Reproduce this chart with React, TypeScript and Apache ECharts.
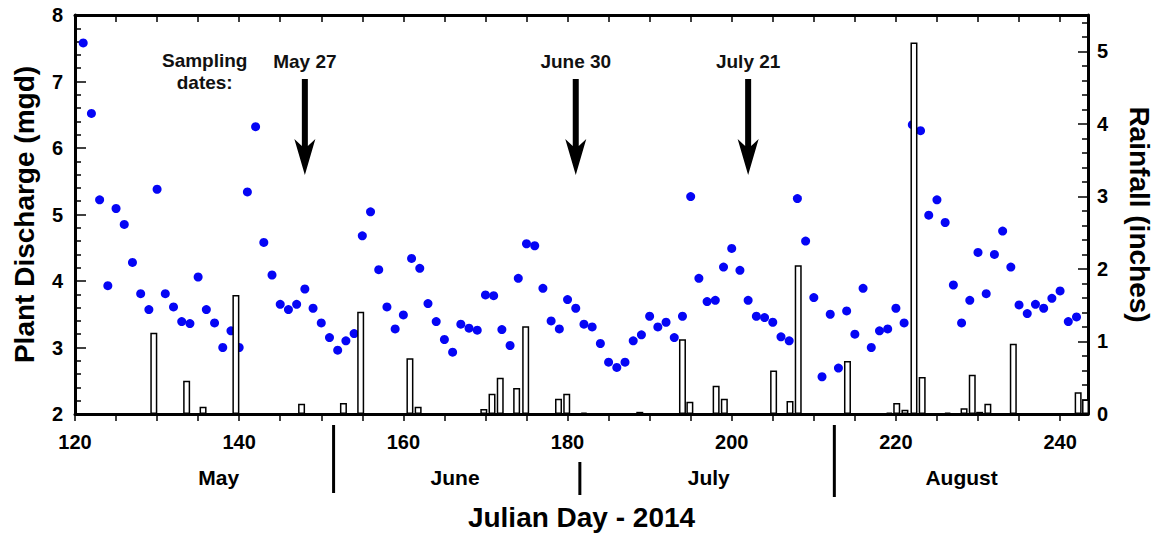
import React, { useEffect, useRef } from 'react';
import * as echarts from 'echarts';

// ---- Data ----
const DISCHARGE_DAYS = [
  121, 122, 123, 124, 125, 126, 127, 128, 129, 130,
  131, 132, 133, 134, 135, 136, 137, 138, 139, 140,
  141, 142, 143, 144, 145, 146, 147, 148, 149, 150,
  151, 152, 153, 154, 155, 156, 157, 158, 159, 160,
  161, 162, 163, 164, 165, 166, 167, 168, 169, 170,
  171, 172, 173, 174, 175, 176, 177, 178, 179, 180,
  181, 182, 183, 184, 185, 186, 187, 188, 189, 190,
  191, 192, 193, 194, 195, 196, 197, 198, 199, 200,
  201, 202, 203, 204, 205, 206, 207, 208, 209, 210,
  211, 212, 213, 214, 215, 216, 217, 218, 219, 220,
  221, 222, 223, 224, 225, 226, 227, 228, 229, 230,
  231, 232, 233, 234, 235, 236, 237, 238, 239, 240,
  241, 242,
];
const DISCHARGE_MGD = [
  7.58, 6.52, 5.22, 3.93, 5.09, 4.85, 4.28, 3.81, 3.57, 5.38,
  3.81, 3.61, 3.39, 3.36, 4.06, 3.57, 3.37, 3.0, 3.25, 3.0,
  5.34, 6.32, 4.58, 4.09, 3.65, 3.57, 3.65, 3.88, 3.59, 3.37,
  3.15, 2.96, 3.1, 3.21, 4.68, 5.04, 4.17, 3.61, 3.28, 3.49,
  4.34, 4.19, 3.66, 3.39, 3.12, 2.93, 3.35, 3.29, 3.26, 3.79,
  3.78, 3.27, 3.03, 4.04, 4.56, 4.53, 3.89, 3.4, 3.28, 3.72,
  3.59, 3.35, 3.31, 3.06, 2.78, 2.7, 2.78, 3.1, 3.19, 3.47,
  3.31, 3.38, 3.15, 3.47, 5.27, 4.04, 3.69, 3.71, 4.21, 4.49,
  4.16, 3.71, 3.47, 3.45, 3.38, 3.16, 3.1, 5.24, 4.6, 3.75,
  2.56, 3.5, 2.69, 3.55, 3.2, 3.89, 3.0, 3.25, 3.28, 3.59,
  3.37, 6.35, 6.26, 4.99, 5.22, 4.88, 3.94, 3.37, 3.71, 4.43,
  3.81, 4.4, 4.75, 4.21, 3.64, 3.51, 3.65, 3.59, 3.74, 3.85,
  3.39, 3.46,
];

const RAIN_DAYS = [
  129.6, 133.6, 135.6, 139.6, 147.6, 152.7, 154.8, 160.8, 161.8, 169.8,
  170.8, 171.8, 173.8, 174.9, 178.9, 179.9, 182.0, 188.8, 194.0, 194.9,
  198.1, 199.1, 205.1, 207.1, 208.1, 214.1, 219.2, 220.1, 221.1, 222.2,
  223.2, 226.3, 228.3, 229.3, 230.2, 231.2, 234.3, 242.2, 243.1,
];
const RAIN_INCHES = [
  1.12, 0.46, 0.1, 1.64, 0.14, 0.15, 1.41, 0.77, 0.1, 0.07,
  0.28, 0.5, 0.36, 1.21, 0.21, 0.28, 0.02, 0.03, 1.03, 0.17,
  0.39, 0.21, 0.6, 0.18, 2.05, 0.73, 0.02, 0.15, 0.06, 5.12,
  0.51, 0.02, 0.08, 0.54, 0.03, 0.14, 0.97, 0.3, 0.2,
];

const X_TICKS = [120, 125, 130, 135, 140, 145, 150, 155, 160, 165, 170, 175, 180, 185, 190, 195, 200, 205, 210, 215, 220, 225, 230, 235, 240];
const X_LABELS = [120, 140, 160, 180, 200, 220, 240];
const RAIN_LABELS = [0, 1, 2, 3, 4, 5];
const RAIN_MINOR_TICKS = [
  0.2, 0.4, 0.6, 0.8, 1.2, 1.4, 1.6, 1.8, 2.2, 2.4, 2.6, 2.8,
  3.2, 3.4, 3.6, 3.8, 4.2, 4.4, 4.6, 4.8, 5.2, 5.4,
];

const MONTHS = ['May', 'June', 'July', 'August'];
const MONTH_LABEL_DAYS = [137.5, 166.3, 197.2, 228.0];
const MONTH_BOUNDARY_DAYS = [151.5, 181.5, 212.5];

const SAMPLE_LABELS = ['May 27', 'June 30', 'July 21'];
const SAMPLE_DAYS = [148, 181, 202];
const SAMPLING_NOTE = 'Sampling\ndates:';
const SAMPLING_NOTE_DAY = 135.8;

const X_MIN = 120;
const X_MAX = 243.4;

const FONT = "'Liberation Sans', Arial, Helvetica, sans-serif";

export default function App() {
  const ref = useRef<HTMLDivElement>(null);

  useEffect(() => {
    const chart = echarts.init(ref.current as HTMLDivElement, null, { renderer: 'svg' });
    const lineStyle = { color: '#000', width: 3 };
    const tickStyle = { color: '#000', width: 1.5 };
    const labelStyle = { color: '#000', fontSize: 20, fontWeight: 'bold', fontFamily: FONT };
    const nameStyle = { color: '#000', fontSize: 28, fontWeight: 'bold', fontFamily: FONT };

    chart.setOption({
      animation: false,
      backgroundColor: '#fff',
      textStyle: { fontFamily: FONT },
      grid: { left: 75, right: 70, top: 15, bottom: 126, containLabel: false, outerBoundsMode: 'none' },
      xAxis: [
        {
          type: 'value',
          position: 'bottom',
          min: X_MIN,
          max: X_MAX,
          axisLine: { show: true, onZero: false, lineStyle },
          axisTick: { show: true, inside: false, length: 7, lineStyle: tickStyle, customValues: X_TICKS },
          axisLabel: { show: true, margin: 18, customValues: X_LABELS, ...labelStyle },
          splitLine: { show: false },
          name: 'Julian Day - 2014',
          nameLocation: 'middle',
          nameGap: 89,
          nameTextStyle: nameStyle,
        },
        {
          type: 'value',
          position: 'top',
          min: X_MIN,
          max: X_MAX,
          axisLine: { show: true, onZero: false, lineStyle },
          axisTick: { show: true, inside: true, length: 7, lineStyle: tickStyle, customValues: X_TICKS },
          axisLabel: { show: false },
          splitLine: { show: false },
        },
      ],
      yAxis: [
        {
          type: 'value',
          position: 'left',
          min: 2,
          max: 8,
          interval: 1,
          axisLine: { show: true, onZero: false, lineStyle },
          axisTick: { show: true, inside: true, length: 11, lineStyle: tickStyle },
          minorTick: { show: true, splitNumber: 5, length: 6, lineStyle: tickStyle },
          axisLabel: { show: true, margin: 12, ...labelStyle },
          splitLine: { show: false },
          minorSplitLine: { show: false },
          name: 'Plant Discharge (mgd)',
          nameLocation: 'middle',
          nameRotate: 90,
          nameGap: 37,
          nameTextStyle: nameStyle,
        },
        {
          type: 'value',
          position: 'right',
          min: 0,
          max: 5.5,
          axisLine: { show: true, onZero: false, lineStyle },
          axisTick: { show: true, inside: true, length: 10, lineStyle: tickStyle, customValues: RAIN_LABELS },
          axisLabel: { show: true, margin: 9, customValues: RAIN_LABELS, ...labelStyle },
          splitLine: { show: false },
          name: 'Rainfall (inches)',
          nameLocation: 'middle',
          nameRotate: -90,
          nameGap: 37,
          nameTextStyle: nameStyle,
        },
        {
          type: 'value',
          position: 'right',
          min: 0,
          max: 5.5,
          axisLine: { show: false },
          axisTick: { show: true, inside: true, length: 6, lineStyle: tickStyle, customValues: RAIN_MINOR_TICKS },
          axisLabel: { show: false },
          splitLine: { show: false },
        },
      ],
      series: [
        {
          type: 'scatter',
          name: 'Plant Discharge',
          xAxisIndex: 0,
          yAxisIndex: 0,
          symbol: 'circle',
          symbolSize: 9,
          itemStyle: { color: '#0505f5', opacity: 1 },
          z: 2,
          data: DISCHARGE_DAYS.map((d, i) => [d, DISCHARGE_MGD[i]]),
        },
        {
          type: 'bar',
          name: 'Rainfall',
          xAxisIndex: 0,
          yAxisIndex: 1,
          barWidth: 7,
          itemStyle: { color: '#fff', borderColor: '#000', borderWidth: 1.5 },
          z: 3,
          data: RAIN_DAYS.map((d, i) => [d, RAIN_INCHES[i]]),
        },
      ],
    });

    const px = (d: number) => chart.convertToPixel({ xAxisIndex: 0 }, d) as number;
    const graphics: any[] = [];

    const sepExtents = [
      [425, 493],
      [462, 495],
      [425, 497],
    ];
    MONTH_BOUNDARY_DAYS.forEach((d, i) => {
      const x = px(d);
      graphics.push({
        type: 'line',
        shape: { x1: x, y1: sepExtents[i][0], x2: x, y2: sepExtents[i][1] },
        style: { stroke: '#000', lineWidth: 3 },
        silent: true,
      });
    });

    MONTHS.forEach((m, i) => {
      graphics.push({
        type: 'text',
        x: px(MONTH_LABEL_DAYS[i]),
        y: 477,
        style: {
          text: m,
          fontSize: 21,
          fontWeight: 'bold',
          fontFamily: FONT,
          fill: '#000',
          align: 'center',
          verticalAlign: 'middle',
          textAlign: 'center',
          textVerticalAlign: 'middle',
        },
        silent: true,
      });
    });

    graphics.push({
      type: 'text',
      x: px(SAMPLING_NOTE_DAY),
      y: 71,
      style: {
        text: SAMPLING_NOTE,
        fontSize: 19,
        fontWeight: 'bold',
        fontFamily: FONT,
        lineHeight: 22,
        fill: '#111',
        align: 'center',
        verticalAlign: 'middle',
        textAlign: 'center',
        textVerticalAlign: 'middle',
      },
      silent: true,
    });

    SAMPLE_DAYS.forEach((d, i) => {
      const x = px(d);
      graphics.push({
        type: 'text',
        x,
        y: 61,
        style: {
          text: SAMPLE_LABELS[i],
          fontSize: 19,
          fontWeight: 'bold',
          fontFamily: FONT,
          fill: '#111',
          align: 'center',
          verticalAlign: 'middle',
          textAlign: 'center',
          textVerticalAlign: 'middle',
        },
        silent: true,
      });
      graphics.push({
        type: 'polygon',
        shape: {
          points: [
            [x - 3, 79],
            [x + 3, 79],
            [x + 3, 146],
            [x + 10.5, 139],
            [x, 175],
            [x - 10.5, 139],
            [x - 3, 146],
          ],
        },
        style: { fill: '#000' },
        silent: true,
      });
    });

    chart.setOption({ graphic: graphics });

    return () => {
      chart.dispose();
    };
  }, []);

  return (
    <div
      ref={ref}
      style={{ position: 'absolute', left: 0, top: 0, width: 1158, height: 540, background: '#fff' }}
    />
  );
}
